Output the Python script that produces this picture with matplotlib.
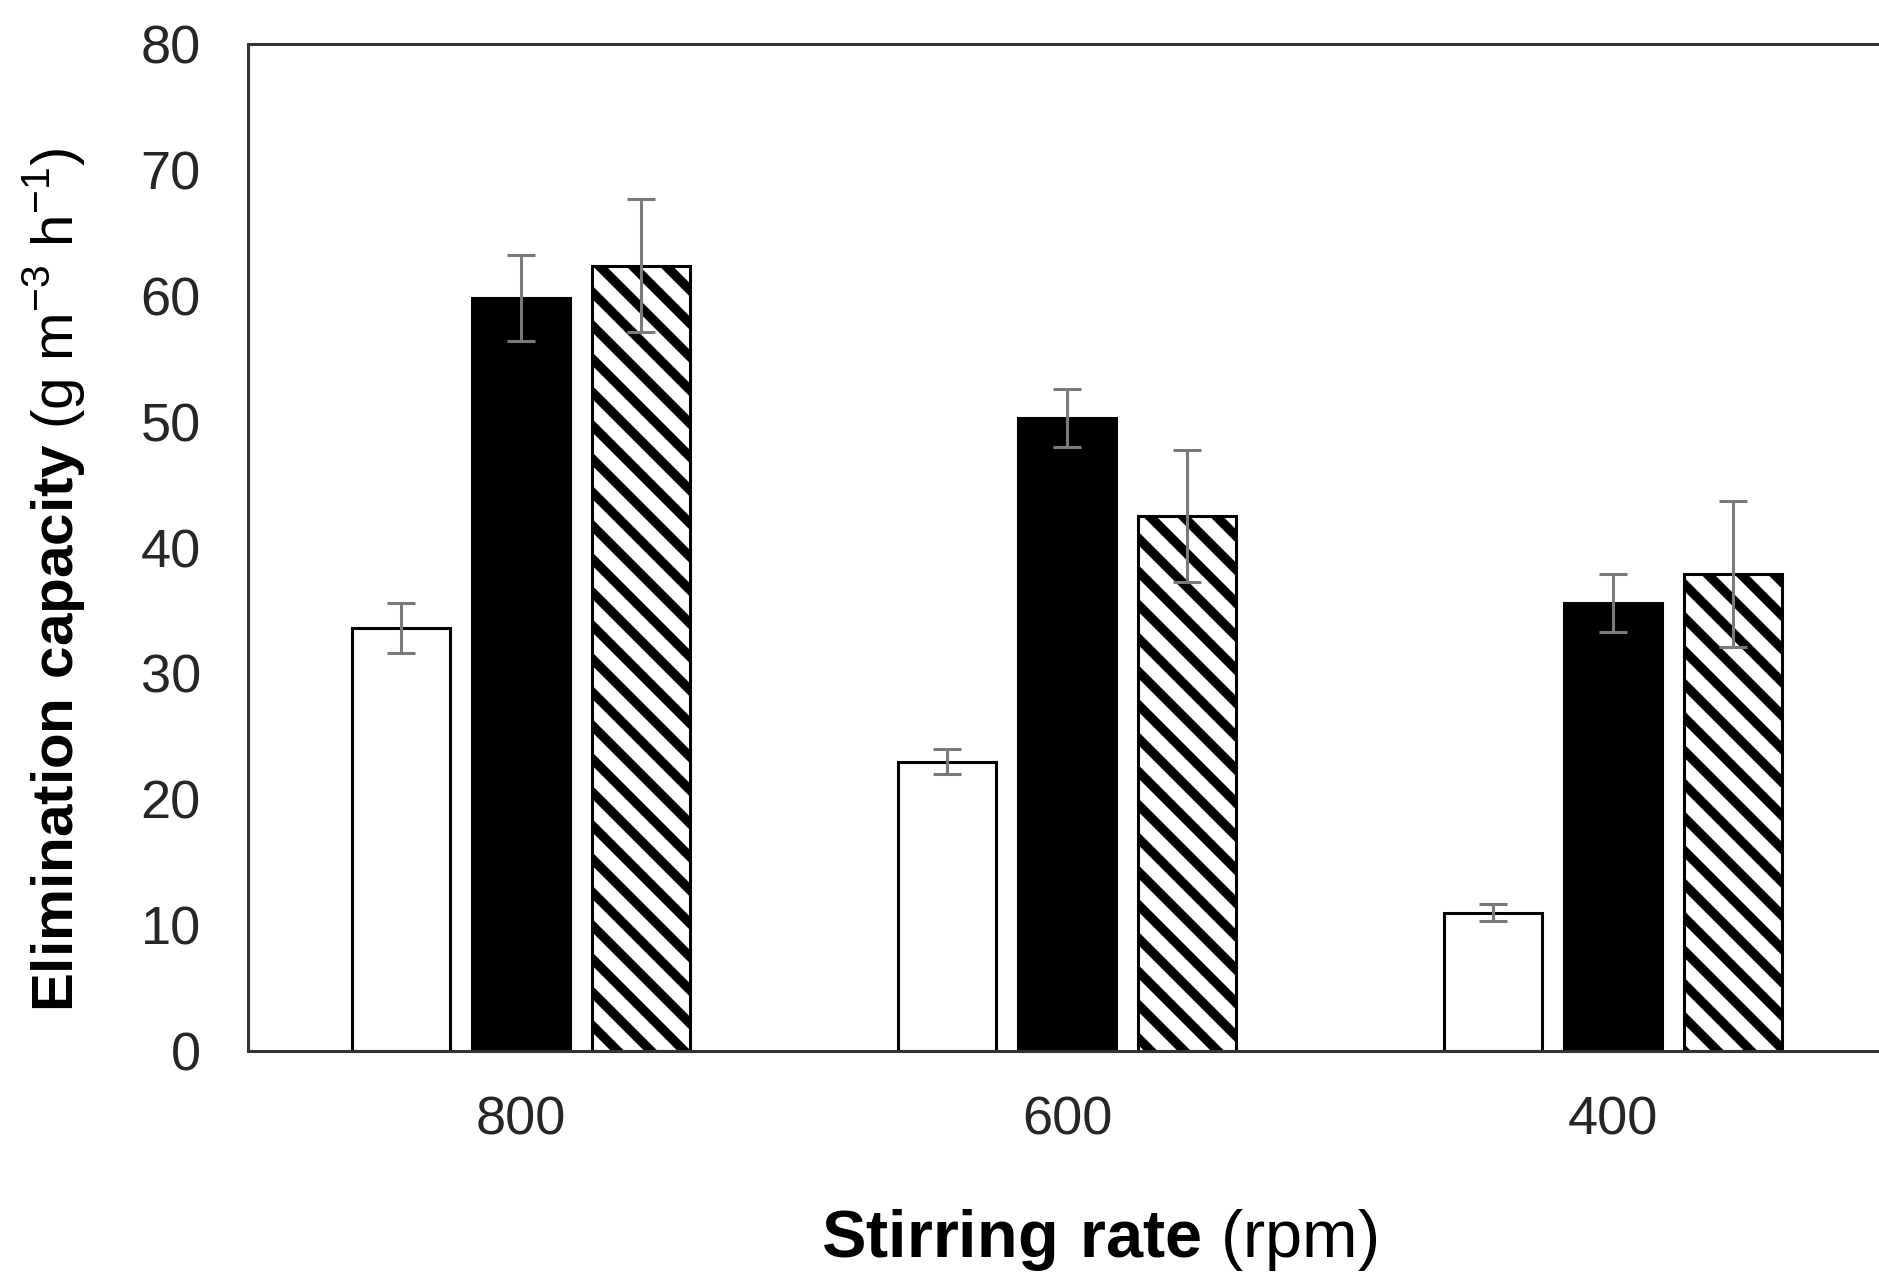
import matplotlib.pyplot as plt
import numpy as np

plt.rcParams['font.family'] = ['Liberation Sans', 'DejaVu Sans']
plt.rcParams['mathtext.fontset'] = 'custom'
plt.rcParams['mathtext.rm'] = 'Liberation Sans'
plt.rcParams['mathtext.bf'] = 'Liberation Sans:bold'
plt.rcParams['hatch.linewidth'] = 3.4

# elimination capacity at each stirring rate
rates = ['800', '600', '400']
white_vals = [33.6, 23.0, 11.0]
white_err = [2.0, 1.0, 0.7]
black_vals = [59.8, 50.3, 35.6]
black_err = [3.4, 2.3, 2.3]
hatch_vals = [62.4, 42.5, 37.9]
hatch_err = [5.3, 5.25, 5.8]

fig = plt.figure(figsize=(9.395, 6.38), dpi=200)
ax = fig.add_axes([0.132, 0.1763, 0.8717, 0.7892])

x = np.arange(len(rates))
w = 0.18
step = 0.22
err_kw = dict(ecolor='#7a7a7a', elinewidth=1.1, capsize=5, capthick=1.1)

ax.bar(x - step, white_vals, w, color='white', edgecolor='black', linewidth=1.1,
       yerr=white_err, error_kw=err_kw, zorder=2)
ax.bar(x, black_vals, w, color='black', edgecolor='black', linewidth=1.1,
       yerr=black_err, error_kw=err_kw, zorder=2)
ax.bar(x + step, hatch_vals, w, color='white', edgecolor='black', linewidth=1.1,
       hatch='\\\\', yerr=hatch_err, error_kw=err_kw, zorder=2)

ax.set_xlim(-0.5, 2.5)
ax.set_ylim(0, 80)
ax.set_yticks(range(0, 81, 10))
ax.set_xticks(x)
ax.set_xticklabels(rates)
ax.tick_params(axis='y', length=0, pad=17, labelsize=19.5, labelcolor='#262626')
ax.tick_params(axis='x', length=0, pad=16, labelsize=19.5, labelcolor='#262626')
for s in ax.spines.values():
    s.set_color('#333333')
    s.set_linewidth(1.1)

fig.text(54 / 1879, 1 - 580 / 1276,
         r'$\bf{Elimination\ capacity}$ (g m$^{-3}$ h$^{-1}$)',
         rotation=90, ha='center', va='center', fontsize=21, color='black')
fig.text(1099 / 1879, 1 - 1240 / 1276,
         r'$\bf{Stirring\ rate}$ (rpm)',
         ha='center', va='center', fontsize=24, color='black')

plt.savefig('out.png', dpi=200)
plt.close()
